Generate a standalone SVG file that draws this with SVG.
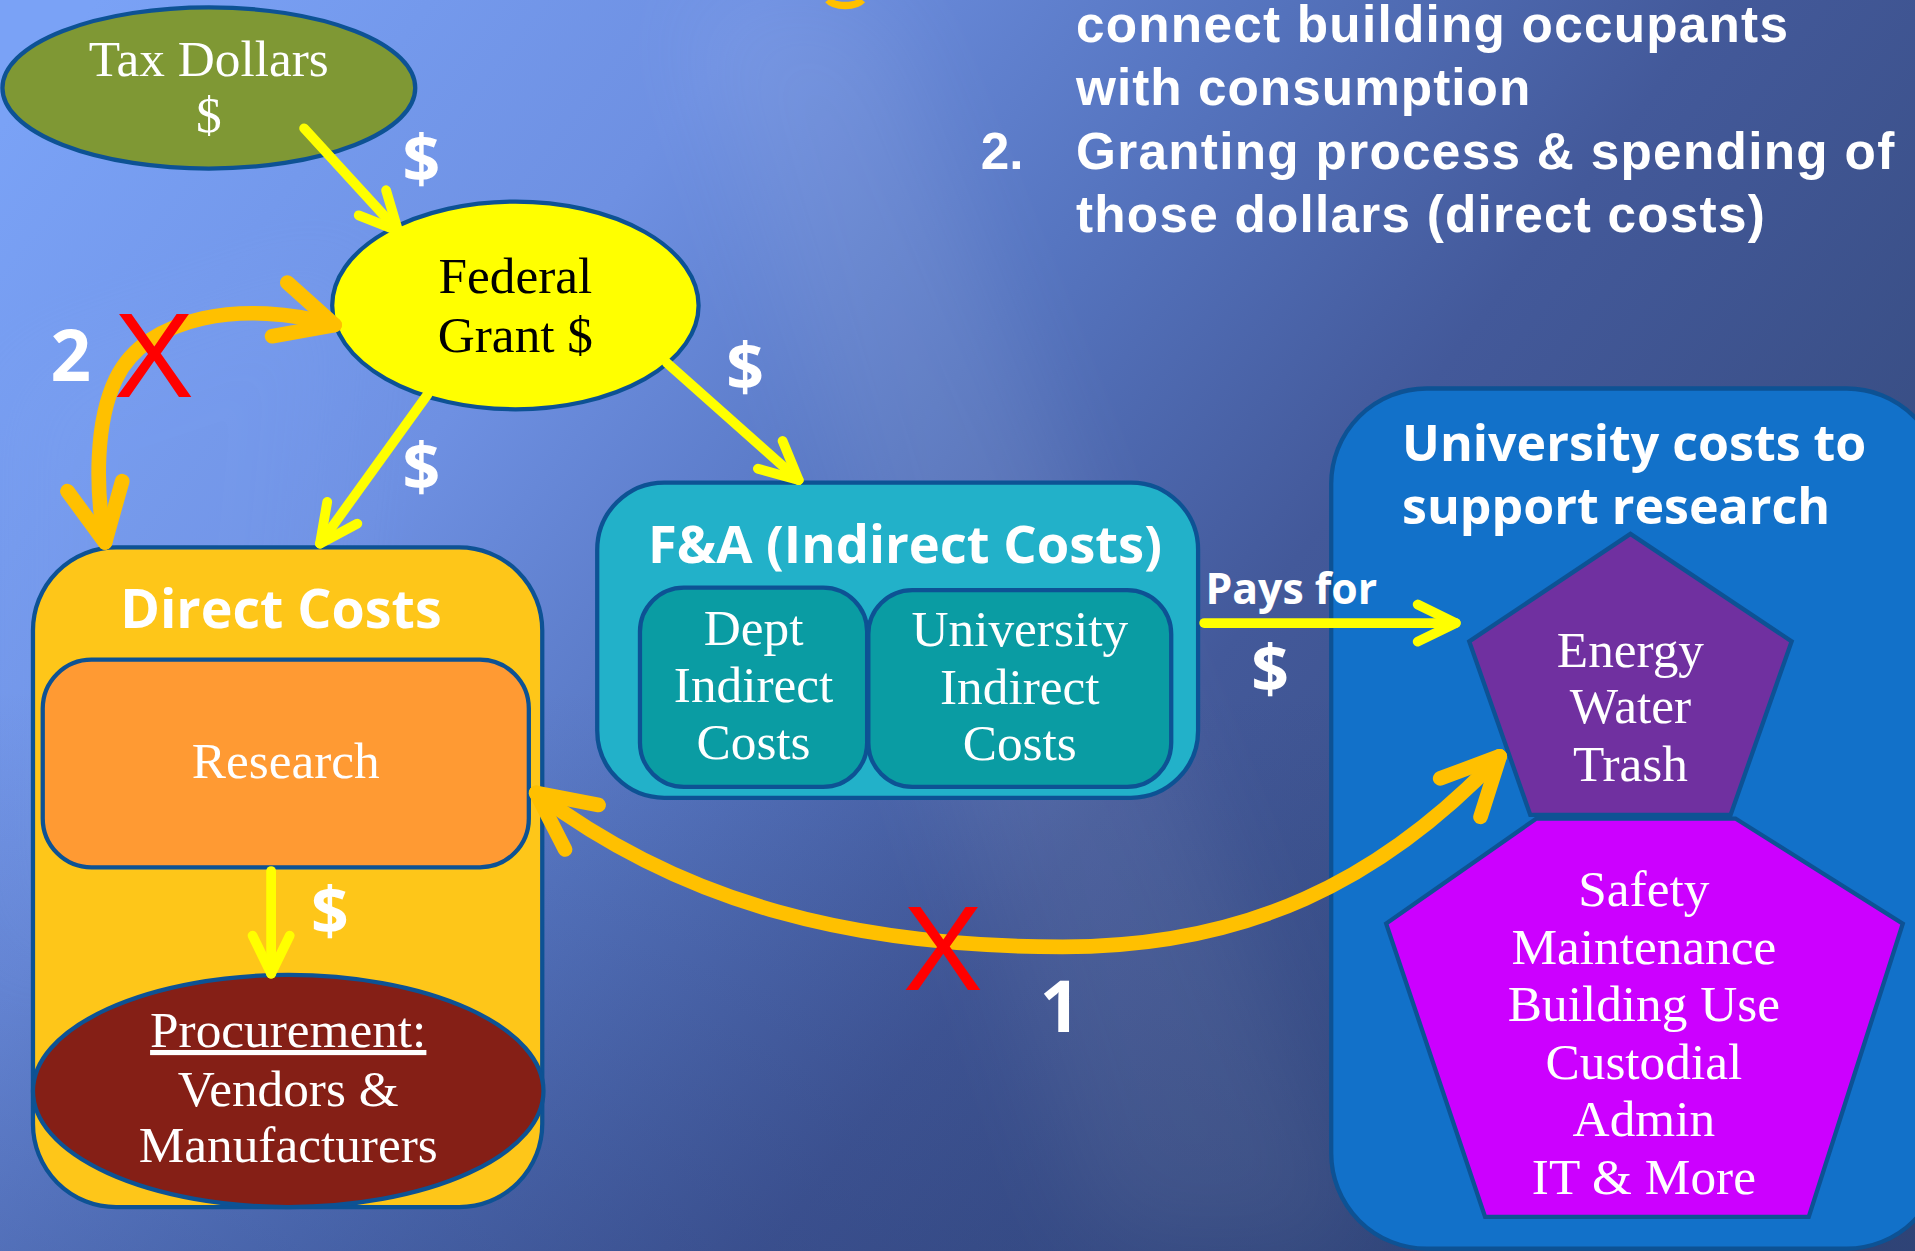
<svg xmlns="http://www.w3.org/2000/svg" width="1915" height="1251" viewBox="0 0 1915 1251">
<defs>
<linearGradient id="bg" x1="0" y1="0.1" x2="1" y2="0.6">
<stop offset="0" stop-color="#7aa2f6"/>
<stop offset="0.28" stop-color="#6e90e2"/>
<stop offset="0.48" stop-color="#5675c0"/>
<stop offset="0.68" stop-color="#43599a"/>
<stop offset="1" stop-color="#354a7c"/>
</linearGradient>
<linearGradient id="bgb" x1="0" y1="0" x2="0" y2="1">
<stop offset="0.55" stop-color="#1c2f66" stop-opacity="0"/>
<stop offset="1" stop-color="#1c2f66" stop-opacity="0.25"/>
</linearGradient>
<filter id="blur" x="-50%" y="-50%" width="200%" height="200%"><feGaussianBlur stdDeviation="40"/></filter>
<marker id="arrY" viewBox="0 0 10 10" refX="9" refY="5" markerWidth="5" markerHeight="5" orient="auto-start-reverse" markerUnits="strokeWidth">
<path d="M1.2,1.2 L9,5 L1.2,8.8" fill="none" stroke="#ffff00" stroke-width="2" stroke-linecap="round" stroke-linejoin="round"/>
</marker>
<marker id="arrO" viewBox="0 0 10 10" refX="9" refY="5" markerWidth="5" markerHeight="5" orient="auto-start-reverse" markerUnits="strokeWidth">
<path d="M1.2,1.2 L9,5 L1.2,8.8" fill="none" stroke="#ffc000" stroke-width="2" stroke-linecap="round" stroke-linejoin="round"/>
</marker>
<style>
.edge{stroke:#0d5294;stroke-width:3.5}
.ser{font-family:"Liberation Serif","DejaVu Serif",serif;font-size:42px;fill:#ffffff;text-anchor:middle}
.ttl{font-family:"Open Sans","Liberation Sans",sans-serif;font-weight:bold;fill:#ffffff}
.lst{font-family:"Liberation Sans",Arial,sans-serif;font-weight:bold;font-size:42px;fill:#ffffff}
.dol{font-family:"Open Sans","Liberation Sans",sans-serif;font-weight:bold;font-size:54px;fill:#ffffff;text-anchor:middle}
.ylw{fill:none;stroke:#ffff00;stroke-width:8;stroke-linecap:round;marker-end:url(#arrY)}
.org{fill:none;stroke:#ffc000;stroke-width:12;stroke-linecap:round;marker-start:url(#arrO);marker-end:url(#arrO)}
.xm{font-family:"Liberation Sans",Arial,sans-serif;font-size:98px;fill:#ff0000;text-anchor:middle}
.num{font-family:"Open Sans","Liberation Sans",sans-serif;font-weight:bold;font-size:58px;fill:#ffffff;text-anchor:middle}
</style>
</defs>
<rect width="1915" height="1251" fill="url(#bg)"/>
<g transform="scale(1.2213,1.2217)">
<polygon points="560,0 720,0 1120,1024 900,1024" fill="#ffffff" opacity="0.07" filter="url(#blur)"/>
<polygon points="0,300 300,200 250,700 0,800" fill="#8fb3ff" opacity="0.12" filter="url(#blur)"/>
<rect width="1568" height="1024" fill="url(#bgb)"/>

<path d="M678,0 A15,7 0 0 0 706,0" fill="none" stroke="#ffc000" stroke-width="6"/>

<g id="notes">
<text class="lst" x="881" y="34" textLength="583" lengthAdjust="spacing">connect building occupants</text>
<text class="lst" x="881" y="86" textLength="372" lengthAdjust="spacing">with consumption</text>
<text class="lst" x="803" y="138">2.</text>
<text class="lst" x="881" y="138" textLength="670" lengthAdjust="spacing">Granting process &amp; spending of</text>
<text class="lst" x="881" y="190" textLength="564" lengthAdjust="spacing">those dollars (direct costs)</text>
</g>

<g id="university">
<rect x="1090" y="318" width="500" height="704" rx="78" fill="#1271c9" class="edge"/>
<text class="ttl" x="1148" y="377" font-size="41">University costs to</text>
<text class="ttl" x="1148" y="429" font-size="41">support research</text>
</g>

<g id="overhead">
<polygon points="1258,670 1421,670 1558,756 1481,996 1216,996 1135,756" fill="#cc00ff" class="edge"/>
<text class="ser" x="1346" y="742">Safety</text>
<text class="ser" x="1346" y="789">Maintenance</text>
<text class="ser" x="1346" y="836">Building Use</text>
<text class="ser" x="1346" y="883">Custodial</text>
<text class="ser" x="1346" y="930">Admin</text>
<text class="ser" x="1346" y="977">IT &amp; More</text>
</g>

<g id="utilities">
<polygon points="1335,437 1467,525 1417,667 1253,667 1203,525" fill="#7030a0" class="edge"/>
<text class="ser" x="1335" y="546">Energy</text>
<text class="ser" x="1335" y="592">Water</text>
<text class="ser" x="1335" y="639">Trash</text>
</g>

<g id="direct-costs">
<rect x="27" y="448" width="417" height="540" rx="68" fill="#fec619" class="edge"/>
<text class="ttl" x="230" y="514" font-size="44" text-anchor="middle">Direct Costs</text>
</g>

<g id="research">
<rect x="35" y="540" width="398" height="170" rx="40" fill="#ff9a33" class="edge"/>
<text class="ser" x="234" y="637">Research</text>
</g>

<g id="procurement">
<ellipse cx="236" cy="893" rx="209" ry="95" fill="#851f16" class="edge"/>
<text class="ser" x="236" y="857" text-decoration="underline">Procurement:</text>
<text class="ser" x="236" y="905">Vendors &amp;</text>
<text class="ser" x="236" y="951">Manufacturers</text>
</g>

<g id="fa">
<rect x="489" y="395" width="492" height="258" rx="55" fill="#22b1c9" class="edge"/>
<text class="ttl" x="741" y="461" font-size="43" text-anchor="middle">F&amp;A (Indirect Costs)</text>
</g>

<g id="dept">
<rect x="524" y="481" width="186" height="163" rx="36" fill="#0a9ca3" class="edge"/>
<text class="ser" x="617" y="528">Dept</text>
<text class="ser" x="617" y="575">Indirect</text>
<text class="ser" x="617" y="621">Costs</text>
</g>

<g id="univ-indirect">
<rect x="711" y="483" width="248" height="161" rx="36" fill="#0a9ca3" class="edge"/>
<text class="ser" x="835" y="529">University</text>
<text class="ser" x="835" y="576">Indirect</text>
<text class="ser" x="835" y="622">Costs</text>
</g>

<g id="tax-dollars">
<ellipse cx="171" cy="72" rx="169" ry="66" fill="#7f9834" class="edge"/>
<text class="ser" x="171" y="62">Tax Dollars</text>
<text class="ser" x="171" y="108">$</text>
</g>

<g id="federal-grant">
<ellipse cx="422" cy="250" rx="150" ry="85" fill="#ffff00" class="edge"/>
<text class="ser" x="422" y="240" style="fill:#000000">Federal</text>
<text class="ser" x="422" y="288" style="fill:#000000">Grant $</text>
</g>

<g id="connectors">
<line class="ylw" x1="249" y1="105" x2="326" y2="189"/>
<line class="ylw" x1="350" y1="323" x2="262" y2="445"/>
<line class="ylw" x1="546" y1="297" x2="654" y2="393"/>
<line class="ylw" x1="222" y1="713" x2="222" y2="797"/>
<line class="ylw" x1="986" y1="510" x2="1192" y2="510"/>
<path class="org" d="M274,266 C200,245 120,258 95,310 C78,345 78,400 86,444"/>
<path class="org" d="M439,649 C560,740 700,775 870,775 C1020,775 1130,722 1228,619"/>
</g>

<g id="labels">
<text class="dol" x="345" y="150">$</text>
<text class="dol" x="610" y="320">$</text>
<text class="dol" x="345" y="402">$</text>
<text class="dol" x="270" y="765">$</text>
<text class="dol" x="1040" y="567">$</text>
<text class="ttl" x="987" y="494" font-size="35">Pays for</text>
<text class="num" x="58" y="312">2</text>
<text class="xm" x="126" y="325">X</text>
<text class="num" x="868" y="845">1</text>
<text class="xm" x="772" y="810">X</text>
</g>
</g>
</svg>
